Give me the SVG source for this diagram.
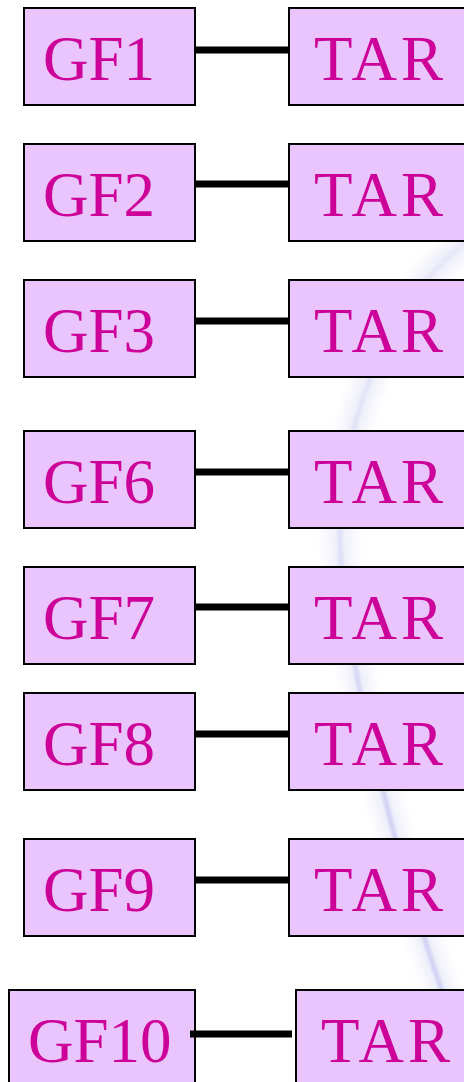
<svg xmlns="http://www.w3.org/2000/svg" width="464" height="1082" viewBox="0 0 464 1082">
<defs>
<filter id="blur" x="-50%" y="-10%" width="200%" height="120%"><feGaussianBlur stdDeviation="6"/></filter>
<filter id="blur2" x="-50%" y="-10%" width="200%" height="120%"><feGaussianBlur stdDeviation="1.5"/></filter>
<linearGradient id="fade" gradientUnits="userSpaceOnUse" x1="0" y1="230" x2="0" y2="1010">
<stop offset="0" stop-color="#D4D4F4" stop-opacity="0.35"/>
<stop offset="0.4" stop-color="#D0D0F4" stop-opacity="0.55"/>
<stop offset="0.7" stop-color="#C8C8F2" stop-opacity="0.8"/>
<stop offset="1" stop-color="#C8C8F2" stop-opacity="0.8"/>
</linearGradient>
</defs>
<style>
.box{fill:#EAC4FD;stroke:#000;stroke-width:2}
.lbl{font-family:"Liberation Serif","Times New Roman",serif;font-size:63px;fill:#CC0099}
.tar{letter-spacing:4px}
.conn{stroke:#000;stroke-width:7;fill:none}
</style>
<rect width="464" height="1082" fill="#fff"/>
<g id="background">
<path d="M 490 225 C 395 280, 338 420, 340 540 C 343 660, 400 870, 448 1010" fill="none" stroke="#E6E6F8" stroke-width="26" filter="url(#blur)" opacity="0.6"/>
<path d="M 490 225 C 395 280, 338 420, 340 540 C 343 660, 400 870, 448 1010" fill="none" stroke="url(#fade)" stroke-width="5" filter="url(#blur2)"/>
</g>
<g id="gf1"><rect class="box" x="24" y="8" width="171" height="97"/><text class="lbl" x="43" y="80">GF1</text></g>
<g id="tar1"><rect class="box" x="289" y="8" width="190" height="97"/><text class="lbl tar" x="314" y="80">TAR</text></g>
<g id="gf2"><rect class="box" x="24" y="144" width="171" height="97"/><text class="lbl" x="43" y="216">GF2</text></g>
<g id="tar2"><rect class="box" x="289" y="144" width="190" height="97"/><text class="lbl tar" x="314" y="216">TAR</text></g>
<g id="gf3"><rect class="box" x="24" y="280" width="171" height="97"/><text class="lbl" x="43" y="352">GF3</text></g>
<g id="tar3"><rect class="box" x="289" y="280" width="190" height="97"/><text class="lbl tar" x="314" y="352">TAR</text></g>
<g id="gf6"><rect class="box" x="24" y="431" width="171" height="97"/><text class="lbl" x="43" y="503">GF6</text></g>
<g id="tar6"><rect class="box" x="289" y="431" width="190" height="97"/><text class="lbl tar" x="314" y="503">TAR</text></g>
<g id="gf7"><rect class="box" x="24" y="567" width="171" height="97"/><text class="lbl" x="43" y="639">GF7</text></g>
<g id="tar7"><rect class="box" x="289" y="567" width="190" height="97"/><text class="lbl tar" x="314" y="639">TAR</text></g>
<g id="gf8"><rect class="box" x="24" y="693" width="171" height="97"/><text class="lbl" x="43" y="765">GF8</text></g>
<g id="tar8"><rect class="box" x="289" y="693" width="190" height="97"/><text class="lbl tar" x="314" y="765">TAR</text></g>
<g id="gf9"><rect class="box" x="24" y="839" width="171" height="97"/><text class="lbl" x="43" y="911">GF9</text></g>
<g id="tar9"><rect class="box" x="289" y="839" width="190" height="97"/><text class="lbl tar" x="314" y="911">TAR</text></g>
<g id="gf10"><rect class="box" x="9" y="990" width="186" height="110"/><text class="lbl" x="28" y="1062">GF10</text></g>
<g id="tar10"><rect class="box" x="296" y="990" width="190" height="110"/><text class="lbl tar" x="321" y="1062">TAR</text></g>
<g id="connectors">
<line class="conn" x1="196" y1="50" x2="288" y2="50"/>
<line class="conn" x1="196" y1="184" x2="288" y2="184"/>
<line class="conn" x1="196" y1="321" x2="288" y2="321"/>
<line class="conn" x1="196" y1="472" x2="288" y2="472"/>
<line class="conn" x1="196" y1="607" x2="288" y2="607"/>
<line class="conn" x1="196" y1="734" x2="288" y2="734"/>
<line class="conn" x1="196" y1="880" x2="288" y2="880"/>
<line class="conn" x1="190" y1="1034" x2="292" y2="1034"/>
</g>
</svg>
